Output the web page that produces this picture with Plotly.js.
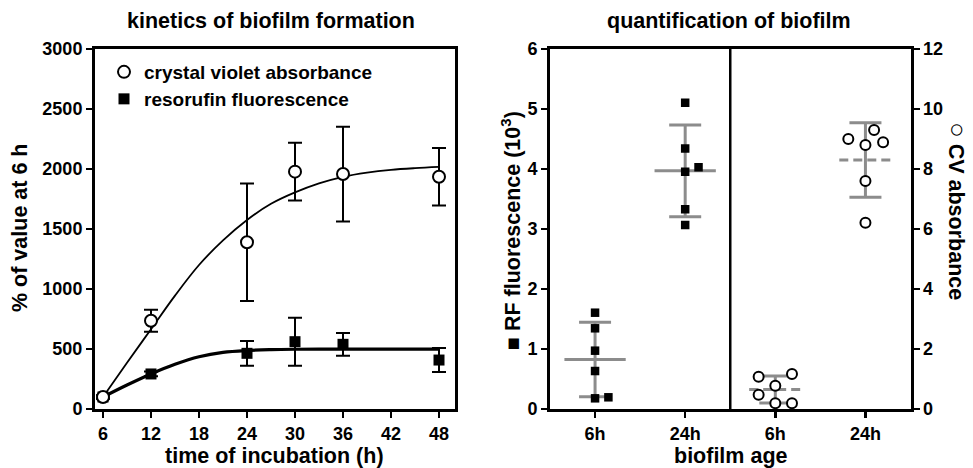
<!DOCTYPE html>
<html>
<head>
<meta charset="utf-8">
<script src="https://cdn.plot.ly/plotly-3.0.1.min.js"></script>
<style>html,body{margin:0;padding:0;background:#fff;}#chart{width:973px;height:468px;}</style>
</head>
<body>
<div id="chart"></div>
<script>
// ---- Left panel: kinetics of biofilm formation ----
const hours = [6, 12, 24, 30, 36, 48];
const cvValues = [100, 735, 1389, 1978, 1958, 1936];
const cvErr = [15, 92, 490, 240, 395, 240];
const rfValues = [100, 292, 464, 561, 539, 408];
const rfErr = [12, 20, 103, 200, 95, 100];
// fitted curves
const curveHours = [6, 9, 12, 15, 18, 21, 24, 27, 30, 33, 36, 39, 42, 45, 48];
const cvCurve = [100, 385, 665, 945, 1200, 1405, 1575, 1710, 1805, 1880, 1935, 1970, 1993, 2007, 2017];
const rfCurve = [100, 200, 292, 372, 435, 472, 488, 495, 498, 499, 499, 499, 499, 499, 499];
const xTicks = [6, 12, 18, 24, 30, 36, 42, 48];

// ---- Right panel: quantification of biofilm ----
const ageLabels = ['6h', '24h', '6h', '24h'];
const rf6h = [1.605, 1.345, 0.972, 0.633, 0.178, 0.195];
const rf6hJitter = [0, 0, 0, 0, 0, 0.148];
const rf24h = [5.105, 4.34, 3.955, 4.03, 3.33, 3.067];
const rf24hJitter = [0, 0, 0, 0.148, 0, 0];
const rfMean = [0.825, 3.97];
const rfSD = [0.62, 0.765];
const cv6h = [1.077, 0.777, 1.167, 0.477, 0.19, 0.19];
const cv6hJitter = [-0.185, 0, 0.185, -0.185, 0, 0.185];
const cv24h = [9.0, 9.3, 8.8, 8.89, 7.6, 6.21];
const cv24hJitter = [-0.19, 0.096, 0, 0.196, 0, 0];
const cvMean = [0.65, 8.3];
const cvSD = [0.45, 1.24];

const W = 973, H = 468;
const px = v => v / W;
const py = v => 1 - v / H;
const FONT = 'Liberation Sans, Arial, Helvetica, sans-serif';
const GRAY = '#8c8c8c';

const traces = [];
// left panel curves
traces.push({x: curveHours, y: cvCurve, mode: 'lines', line: {color: '#000', width: 1.8, shape: 'spline'}, showlegend: false, xaxis: 'x', yaxis: 'y', hoverinfo: 'skip'});
traces.push({x: curveHours, y: rfCurve, mode: 'lines', line: {color: '#000', width: 3.2, shape: 'spline'}, showlegend: false, xaxis: 'x', yaxis: 'y', hoverinfo: 'skip'});
// left panel points
traces.push({x: hours, y: rfValues, mode: 'markers', name: 'resorufin fluorescence', legend: 'legend2',
  marker: {symbol: 'square', size: 11, color: '#000'},
  error_y: {type: 'data', array: rfErr, color: '#000', thickness: 2, width: 7},
  xaxis: 'x', yaxis: 'y'});
traces.push({x: hours, y: cvValues, mode: 'markers', name: 'crystal violet absorbance', legend: 'legend',
  marker: {symbol: 'circle', size: 12, color: '#fff', line: {color: '#000', width: 2}},
  error_y: {type: 'data', array: cvErr, color: '#000', thickness: 2, width: 7},
  xaxis: 'x', yaxis: 'y'});

// right panel: RF mean +/- SD (solid gray)
traces.push({x: [0, 1], y: rfMean, mode: 'markers', marker: {size: 1, color: 'rgba(0,0,0,0)'},
  error_y: {type: 'data', array: rfSD, color: GRAY, thickness: 3, width: 16},
  error_x: {type: 'constant', value: 0.34, color: GRAY, thickness: 3, width: 0},
  showlegend: false, xaxis: 'x2', yaxis: 'y2', hoverinfo: 'skip'});
// CV SD whiskers
traces.push({x: [2, 3], y: cvMean, mode: 'markers', marker: {size: 1, color: 'rgba(0,0,0,0)'},
  error_y: {type: 'data', array: cvSD, color: GRAY, thickness: 3, width: 16},
  showlegend: false, xaxis: 'x2', yaxis: 'y3', hoverinfo: 'skip'});
// CV dashed mean lines
const mx = [], my = [];
cvMean.forEach((m, i) => { mx.push(2 + i - 0.29, 2 + i + 0.29, null); my.push(m, m, null); });
traces.push({x: mx, y: my, mode: 'lines', line: {color: GRAY, width: 3, dash: '9px,5px'},
  showlegend: false, xaxis: 'x2', yaxis: 'y3', hoverinfo: 'skip'});
// RF points
traces.push({x: rf6hJitter.map(j => 0 + j).concat(rf24hJitter.map(j => 1 + j)), y: rf6h.concat(rf24h),
  mode: 'markers', marker: {symbol: 'square', size: 8.5, color: '#000'},
  showlegend: false, xaxis: 'x2', yaxis: 'y2'});
// CV points
traces.push({x: cv6hJitter.map(j => 2 + j).concat(cv24hJitter.map(j => 3 + j)), y: cv6h.concat(cv24h),
  mode: 'markers', marker: {symbol: 'circle', size: 10, color: '#fff', line: {color: '#000', width: 2}},
  showlegend: false, xaxis: 'x2', yaxis: 'y3', cliponaxis: false});

const tickfont = {family: FONT, size: 18, color: '#000', weight: 'bold'};
const axisCommon = {showgrid: false, zeroline: false, showline: true, linecolor: '#000', linewidth: 3,
  ticks: 'outside', ticklen: 6, tickwidth: 2.5, tickcolor: '#000', tickfont: tickfont, fixedrange: true};

const domX1 = [px(95), px(455)];
const domX2 = [px(550), px(910.5)];
const domY = [1 - 409 / H, 1 - 49 / H];

const ann = (text, x, y, angle, size) => ({text, x: px(x), y: py(y), xref: 'paper', yref: 'paper',
  showarrow: false, textangle: angle || 0, xanchor: 'center', yanchor: 'middle',
  font: {family: FONT, size: size || 21.5, color: '#000', weight: 'bold'}});

const legFont = {family: FONT, size: 19, color: '#000', weight: 'bold'};
const layout = {
  width: W, height: H,
  margin: {l: 0, r: 0, t: 0, b: 0},
  paper_bgcolor: '#fff', plot_bgcolor: 'rgba(0,0,0,0)',
  font: {family: FONT, color: '#000'},
  xaxis: Object.assign({}, axisCommon, {domain: domX1, range: [5, 50], tickvals: xTicks, anchor: 'y', mirror: true}),
  yaxis: Object.assign({}, axisCommon, {domain: domY, range: [0, 3000], dtick: 500, anchor: 'x', mirror: true}),
  xaxis2: Object.assign({}, axisCommon, {domain: domX2, range: [-0.5, 3.5], tickvals: [0, 1, 2, 3], ticktext: ageLabels, anchor: 'y2', mirror: true}),
  yaxis2: Object.assign({}, axisCommon, {domain: domY, range: [0, 6], dtick: 1, anchor: 'x2', side: 'left'}),
  yaxis3: Object.assign({}, axisCommon, {domain: domY, range: [0, 12], dtick: 2, anchor: 'x2', side: 'right', overlaying: 'y2'}),
  showlegend: true,
  legend: {x: px(104), y: py(72), xanchor: 'left', yanchor: 'middle', bgcolor: 'rgba(0,0,0,0)', font: legFont},
  legend2: {x: px(104), y: py(99), xanchor: 'left', yanchor: 'middle', bgcolor: 'rgba(0,0,0,0)', font: legFont},
  shapes: [{type: 'line', xref: 'x2', yref: 'y2 domain', x0: 1.5, x1: 1.5, y0: 0, y1: 1, line: {color: '#000', width: 2.5}}],
  annotations: [
    ann('kinetics of biofilm formation', 271, 21),
    ann('quantification of biofilm', 729, 21),
    ann('time of incubation (h)', 274, 456),
    ann('biofilm age', 731, 456),
    ann('% of value at 6 h', 20, 228, -90),
    ann('■ RF fluorescence (10<sup>3</sup>)', 511, 230, -90),
    ann('<span style="font-size:26px">○</span> CV absorbance', 958, 211, 90)
  ]
};

Plotly.newPlot('chart', traces, layout, {staticPlot: true, displayModeBar: false});
</script>
</body>
</html>
